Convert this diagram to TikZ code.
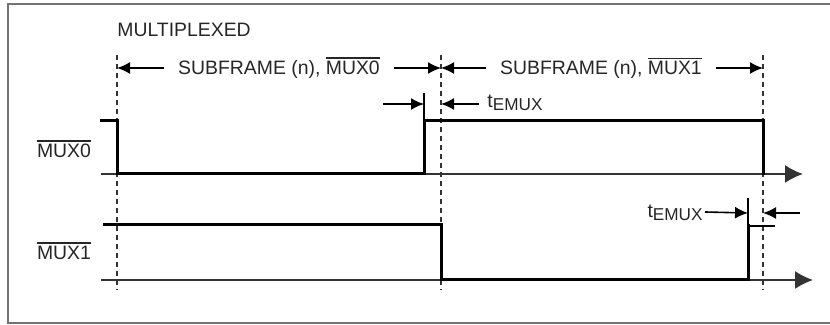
\documentclass[tikz,border=0pt]{standalone}
\usepackage{fontspec}
\setmainfont{Liberation Sans}
\usepackage{xcolor}
\usetikzlibrary{arrows.meta}

\newcommand{\ovl}[1]{\leavevmode\vbox{\hrule height 0.6pt\kern1.2pt\hbox{#1}}}
\newcommand{\temux}{t\raisebox{-1.8pt}{\fontsize{8.6}{9}\selectfont EMUX}}

\begin{document}
\begin{tikzpicture}[x=0.5pt, y=-0.5pt,
    every node/.style={font=\fontsize{9.7}{11.6}\selectfont, text=black!85},
    sig/.style={line width=1.5pt, line cap=rect},
    axis/.style={line width=0.8pt, black!80, -{Latex[length=9pt,width=9pt]}},
    grid/.style={line width=1pt, black!80, dash pattern=on 2.5pt off 2pt},
    dim/.style={line width=0.8pt, -{Latex[length=6.5pt,width=6pt]}},
    tick/.style={line width=0.8pt}]
    \useasboundingbox (0,0) rectangle (830,325);
    \draw[line width=1pt, black!55] (8,4) rectangle (833,323);

    % Nodes
    \node[anchor=west, inner sep=0pt] (mult) at (117,30) {MULTIPLEXED};
    \node (lab0) at (64,149) {\ovl{MUX0}};
    \node (lab1) at (64,251) {\ovl{MUX1}};
    \node[inner xsep=7pt] (sub0) at (279,68) {SUBFRAME (n), \ovl{MUX0}};
    \node[inner xsep=7pt] (sub1) at (601,68) {SUBFRAME (n), \ovl{MUX1}};
    \node[anchor=west, inner sep=0pt] (te0) at (487,103) {\temux};
    \node[anchor=east, inner sep=0pt] (te1) at (703,213) {\temux};

    % Coordinates
    \coordinate (g0t) at (117,55);  \coordinate (g0b) at (117,290);
    \coordinate (g1t) at (441,55);  \coordinate (g1b) at (441,290);
    \coordinate (g2t) at (763,55);  \coordinate (g2b) at (763,290);
    \coordinate (a0s) at (101,174); \coordinate (a0e) at (803,174);
    \coordinate (a1s) at (101,280); \coordinate (a1e) at (813,280);
    \coordinate (e0) at (424,93);   \coordinate (e1) at (748,198);

    % Grid lines
    \draw[grid] (g0t) -- (g0b);
    \draw[grid] (g1t) -- (g1b);
    \draw[grid] (g2t) -- (g2b);

    % Axes
    \draw[axis] (a0s) -- (a0e);
    \draw[axis] (a1s) -- (a1e);

    % Signals
    \draw[sig] (101,121) -| (117,174) -| (424,121) -| (763,174);
    \draw[sig] (104,225) -| (441,280) -| (748,226);
    \draw[tick] (748,226) -- (775,226);
    \draw[tick] (424,121) -- (e0);
    \draw[tick] (748,226) -- (e1);

    % Arrows
    \draw[dim] (sub0.west) -- (g0t |- sub0.west);
    \draw[dim] (sub0.east) -- (g1t |- sub0.east);
    \draw[dim] (sub1.west) -- (g1t |- sub1.west);
    \draw[dim] (sub1.east) -- (g2t |- sub1.east);
    \draw[dim] (383,104) -- (e0 |- 0,104);
    \draw[dim] (te0.west) ++(-8,1) -- (g1t |- 0,104);
    \draw[dim] (te1.east) ++(2,-1) -- (e1 |- 0,213);
    \draw[dim] (800,213) -- (g2t |- 0,213);
\end{tikzpicture}
\end{document}
